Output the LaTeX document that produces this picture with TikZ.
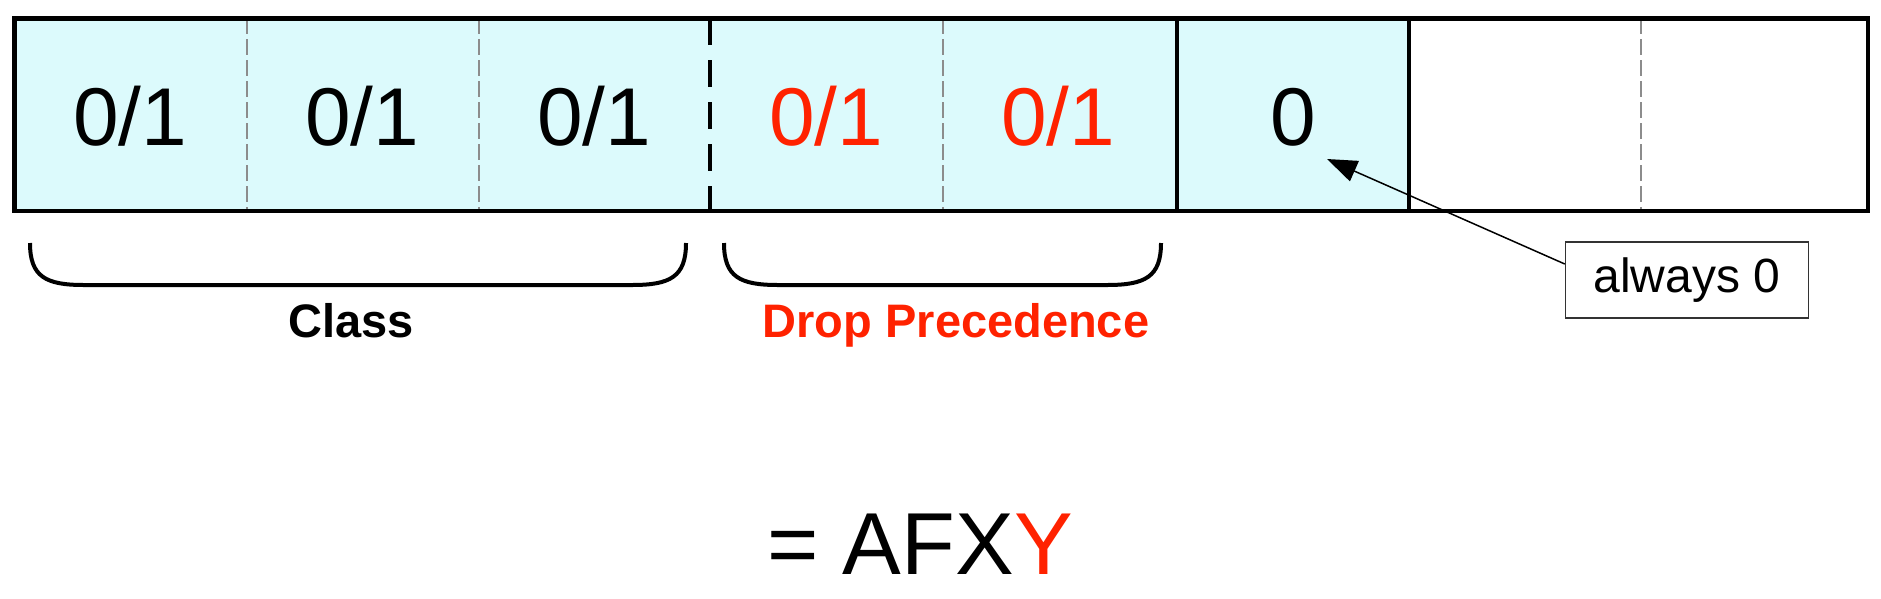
\documentclass[tikz,border=0pt]{standalone}
\usepackage{fontspec}
\setmainfont{Liberation Sans}
\usepackage{tikz}
\usetikzlibrary{arrows.meta}
\definecolor{fieldfill}{HTML}{DCFAFC}
\definecolor{dropred}{HTML}{FF2200}
\tikzset{
  bit/.style={anchor=base,inner sep=0pt,font=\fontsize{82}{90}\selectfont},
  softsep/.style={draw=black!45,line width=1.5pt,dash pattern=on 16pt off 5pt},
  hardsep/.style={line width=4.5pt},
  grouplabel/.style={anchor=base,inner sep=0pt,font=\bfseries\fontsize{47}{50}\selectfont},
  bracket/.style={line width=4pt}
}

\begin{document}
\begin{tikzpicture}[x=1pt,y=-1pt]
\useasboundingbox (0,0) rectangle (1881,598);
% the bit fields
\fill[fieldfill] (14,18) rectangle (1409,211);
\draw[softsep] (247,18) -- (247,211);
\draw[softsep] (479,18) -- (479,211);
\draw[hardsep,dash pattern=on 27pt off 15pt] (710,18) -- (710,211);
\draw[softsep] (943,18) -- (943,211);
\draw[hardsep] (1177,18) -- (1177,211);
\draw[hardsep] (1409,18) -- (1409,211);
\draw[softsep] (1641,18) -- (1641,211);
\draw[line width=4.5pt] (14.5,18.5) rectangle (1868,211);
\node[bit](c1)at(130,145){0/1};
\node[bit](c2)at(362,145){0/1};
\node[bit](c3)at(594,145){0/1};
\node[bit,text=dropred](d1)at(826,145){0/1};
\node[bit,text=dropred](d2)at(1058,145){0/1};
\node[bit](zero)at(1293,145){0};
% groups
\draw[bracket] (30,243) .. controls (30,277) and (46,285) .. (84,285) -- (632,285) .. controls (670,285) and (686,277) .. (686,243);
\draw[bracket] (724,243) .. controls (724,277) and (740,285) .. (778,285) -- (1107,285) .. controls (1145,285) and (1161,277) .. (1161,243);
\node[grouplabel](class)at(351,337){Class};
\node[grouplabel,text=dropred](drop)at(956,337){Drop Precedence};
% note
\node[draw=black!80,line width=1.5pt,minimum width=243pt,minimum height=76pt,inner sep=0pt,font=\fontsize{48}{50}\selectfont](note)at(1687,280){always 0};
\coordinate (tip) at (1327,159);
\draw[line width=1.5pt,-{Triangle[length=30pt,width=22pt]}] ([yshift=16pt]note.west) -- (tip);
\node[anchor=base,inner sep=0pt,font=\fontsize{88}{90}\selectfont](code)at(920,574){= AFX\textcolor{dropred}{Y}};
\end{tikzpicture}
\end{document}
